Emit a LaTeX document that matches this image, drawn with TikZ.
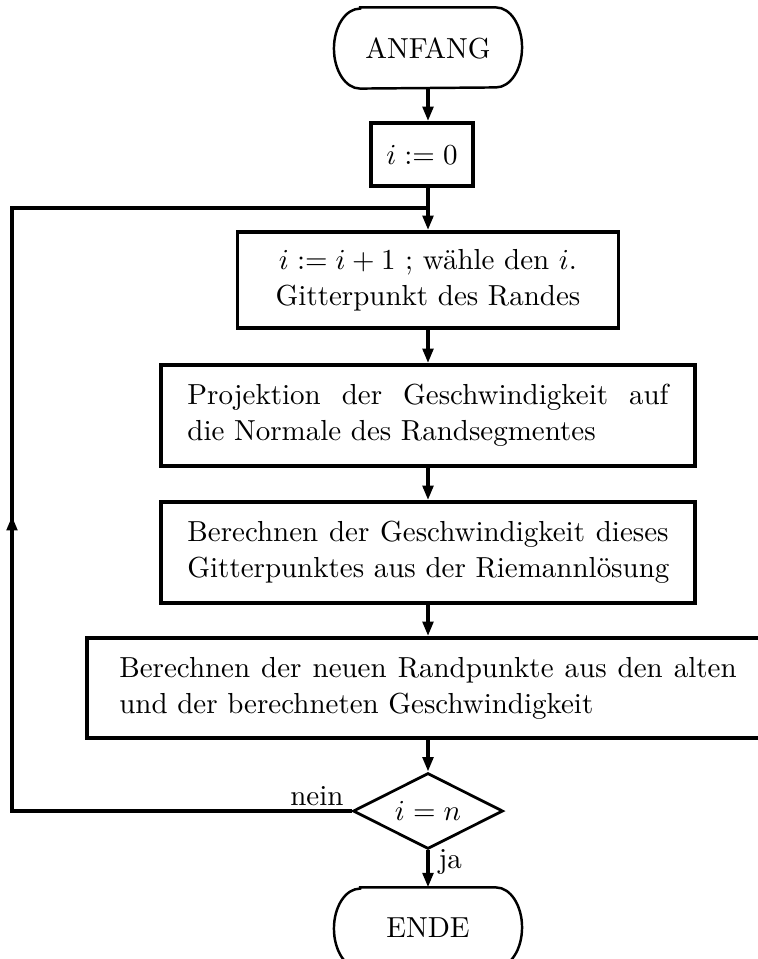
\documentclass[tikz,border=0pt]{standalone}
\usetikzlibrary{arrows.meta,shapes.geometric}
\begin{document}
\begin{tikzpicture}[x=0.345pt,y=-0.345pt,
  every node/.style={font=\fontsize{10}{12.4}\selectfont},
  procbox/.style={draw,line width=1.3pt,rectangle,inner sep=0pt},
  decision/.style={draw,line width=0.95pt,diamond,aspect=2,inner sep=0pt,
    minimum width=51.75pt,minimum height=26.2pt},
  terminal/.style={inner sep=0pt,minimum width=64.5pt,minimum height=27.6pt},
  ovalline/.style={line width=0.85pt},
  flow/.style={line width=1.3pt,-{Triangle[length=5pt,width=3.6pt]}},
  link/.style={line width=1.3pt},
  tag/.style={inner sep=0pt}
]
\useasboundingbox (0,0) rectangle (758,959);

% start and end terminals (text only, outline drawn below)
\node[terminal] (anfang) at (428,48) {ANFANG};
\node[terminal] (ende) at (428,928) {ENDE};
\foreach \t in {anfang,ende}{
  \draw[ovalline] ([xshift=9pt]\t.north west) -- ([xshift=-9pt]\t.north east)
    arc[start angle=90,end angle=-90,x radius=9pt,y radius=13.8pt]
    -- ([xshift=9pt]\t.south west)
    arc[start angle=270,end angle=90,x radius=9pt,y radius=13.8pt] -- cycle;
}

% process boxes
\node[procbox,minimum width=35.2pt,minimum height=21.7pt] (init) at (422,154.5) {$i := 0$};
\node[procbox,minimum width=131.4pt,minimum height=33.1pt,align=center] (pick) at (428,280)
  {$i := i + 1$ ; wähle den $i$.\\Gitterpunkt des Randes};
\node[procbox,minimum width=184.2pt,minimum height=34.8pt,text width=166pt,align=left] (proj) at (428,415.5)
  {\hbox to 166pt{Projektion\ \hfil der\ \hfil Geschwindigkeit\ \hfil auf}\\die Normale des Randsegmentes};
\node[procbox,minimum width=184.2pt,minimum height=34.8pt,text width=166pt,align=left] (riem) at (428,552.5)
  {\hbox to 166pt{Berechnen\ \hfil der\ \hfil Geschwindigkeit\ \hfil dieses}\\\hbox to 166pt{Gitterpunktes\ \hfil aus\ \hfil der\ \hfil Riemannlösung}};
\node[procbox,minimum width=235.3pt,minimum height=34.5pt,text width=213pt,align=left] (rand) at (428,688)
  {\hbox to 213pt{Berechnen\ \hfil der\ \hfil neuen\ \hfil Randpunkte\ \hfil aus\ \hfil den\ \hfil alten}\\und der berechneten Geschwindigkeit};

% decision
\node[decision] (test) at (428,811) {$i = n$};

% branch labels
\node[tag,anchor=base east] (nein) at (344,805) {nein};
\node[tag,anchor=base west] (ja) at (438,868) {ja};

% main flow
\draw[flow] (anfang.south) -- (anfang.south |- init.north);
\draw[flow] (anfang.south |- init.south) -- (pick.north);
\draw[flow] (pick.south) -- (proj.north);
\draw[flow] (proj.south) -- (riem.north);
\draw[flow] (riem.south) -- (rand.north);
\draw[flow] (rand.south) -- (test.north);
\draw[flow] (test.south) -- (ende.north);

% loop back
\coordinate (loopbot) at (12,811);
\coordinate (looptop) at (12,208);
\coordinate (loopmid) at (12,516);
\coordinate (loopjoin) at (428,208);
\draw[link] (test.west) -- (loopbot) -- (looptop) -- (loopjoin);
\draw[flow] (loopbot) -- (loopmid);
\end{tikzpicture}
\end{document}
